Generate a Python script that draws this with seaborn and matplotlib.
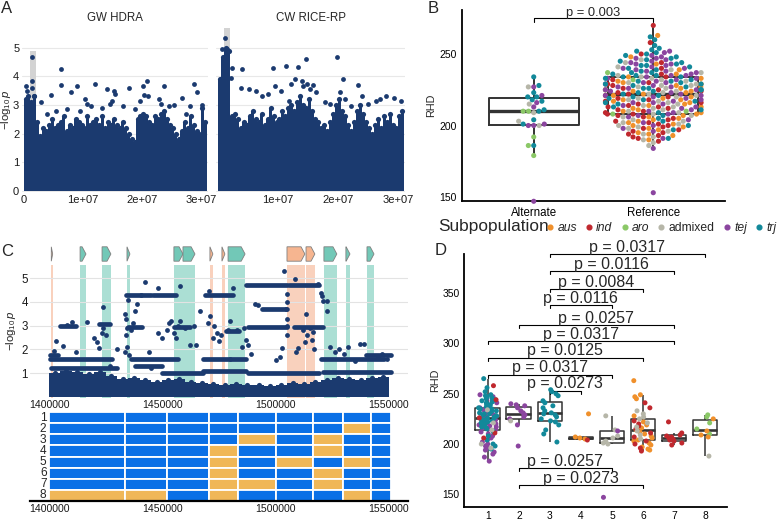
import numpy as np
import pandas as pd
import matplotlib
matplotlib.use("Agg")
import matplotlib.pyplot as plt
from matplotlib.patches import Polygon
from matplotlib.lines import Line2D
import seaborn as sns

sns.set_theme(style="white")
plt.rcParams["font.family"] = ["Liberation Sans", "DejaVu Sans"]
plt.rcParams["mathtext.fontset"] = "custom"
plt.rcParams["mathtext.rm"] = "Liberation Sans"
plt.rcParams["mathtext.it"] = "Liberation Sans:italic"

W, H = 778, 523
NAVY = "#1b3a6f"
SUB_ORDER = ["aus", "ind", "aro", "admixed", "tej", "trj"]
SUB_PAL = {"aus": "#f0902b", "ind": "#c0282e", "aro": "#8bc867",
           "admixed": "#b6b6a8", "tej": "#8b459f", "trj": "#12899a"}

# ---------------- A: genome-wide scans (envelope of dense SNP cloud + top hits)
gwas_bin_mb = [0.0, 0.5, 1.0, 1.5, 2.0, 2.5, 3.0, 3.5, 4.0, 4.5, 5.0, 5.5, 6.0, 6.5,
               7.0, 7.5, 8.0, 8.5, 9.0, 9.5, 10.0, 10.5, 11.0, 11.5, 12.0, 12.5, 13.0,
               13.5, 14.0, 14.5, 15.0, 15.5, 16.0, 16.5, 17.0, 17.5, 18.0, 18.5, 19.0,
               19.5, 20.0, 20.5, 21.0, 21.5, 22.0, 22.5, 23.0, 23.5, 24.0, 24.5, 25.0,
               25.5, 26.0, 26.5, 27.0, 27.5, 28.0, 28.5, 29.0, 29.5, 30.0, 30.5]
hdra_top = [3.2, 3.3, 3.1, 3.3, 2.4, 1.9, 2.2, 2.1, 2.3, 2.5, 2.2, 2.3, 2.4, 2.6,
            2.1, 2.3, 2.2, 2.5, 2.4, 2.3, 2.2, 2.6, 2.3, 2.4, 2.5, 2.3, 2.6,
            2.2, 2.4, 2.3, 2.5, 2.3, 2.2, 2.4, 2.2, 2.0, 1.8, 1.7, 2.5,
            2.6, 2.7, 2.6, 2.4, 2.3, 2.6, 2.5, 2.7, 2.8, 2.5, 2.3, 2.2,
            2.0, 1.8, 2.1, 2.4, 2.2, 2.6, 2.3, 2.1, 2.0, 2.9, 2.4]
ricerp_top = [3.9, 4.7, 5.0, 4.9, 2.6, 2.7, 2.5, 2.2, 2.4, 2.3, 2.6, 2.8, 2.5, 2.4,
              2.7, 2.3, 2.5, 2.9, 2.6, 2.4, 2.5, 2.8, 2.6, 2.9, 3.0, 2.8, 3.1,
              3.3, 3.0, 2.9, 3.2, 2.8, 2.5, 2.4, 2.2, 2.3, 2.1, 2.4, 2.7,
              3.0, 3.2, 2.8, 2.6, 2.3, 2.1, 2.4, 2.8, 3.0, 2.7, 2.4, 2.2,
              2.0, 2.3, 2.5, 2.2, 2.6, 2.4, 2.7, 2.3, 2.2, 2.6, 2.8]
hdra_hit_mb = [1.4, 1.4, 1.3, 0.3, 0.5, 1.7, 2.9, 4.6, 6.3, 6.2, 8.9, 8.0, 7.3, 10.4,
               10.6, 12.0, 14.1, 15.3, 15.5, 15.0, 14.5, 13.3, 17.8, 16.7, 19.6, 20.1,
               20.8, 20.3, 21.0, 23.7, 23.3, 22.9, 24.5, 25.4, 26.8, 28.8, 29.3, 28.2,
               30.1, 9.5, 11.4, 5.5, 3.9, 18.9, 27.4]
hdra_hit_logp = [4.7, 3.85, 3.6, 3.65, 3.5, 3.3, 3.1, 3.35, 4.27, 3.7, 3.65, 3.45, 2.85,
                 3.2, 3.05, 3.72, 3.55, 3.5, 3.38, 3.15, 3.05, 2.9, 3.6, 2.95, 3.15,
                 3.65, 3.85, 3.35, 3.3, 3.68, 3.05, 3.2, 2.95, 3.0, 3.25, 3.72, 3.45,
                 2.95, 3.0, 2.8, 2.95, 2.8, 2.7, 2.85, 2.7]
ricerp_hit_mb = [1.1, 0.6, 1.5, 2.3, 2.2, 4.0, 3.9, 5.2, 6.4, 8.4, 9.1, 9.5, 10.5, 11.3,
                 12.2, 12.9, 13.4, 14.0, 14.2, 14.7, 14.9, 15.3, 15.8, 16.3, 17.8, 19.9,
                 20.8, 20.3, 21.2, 23.4, 24.0, 25.0, 26.3, 27.0, 28.0, 29.3, 30.5, 11.8,
                 7.3, 18.7, 22.2]
ricerp_hit_logp = [5.35, 4.95, 4.95, 4.3, 3.95, 4.25, 3.6, 3.55, 3.5, 3.4, 4.3, 3.65,
                   3.5, 4.38, 3.75, 3.9, 4.33, 3.85, 3.65, 4.6, 3.75, 3.55, 3.7, 3.45,
                   3.1, 4.7, 3.9, 3.45, 3.2, 3.7, 3.3, 3.05, 3.15, 3.2, 3.3, 3.25, 3.15,
                   3.15, 3.3, 3.05, 2.95]

# ---------------- B: RHD by allele and subpopulation
alt_aus = []
alt_ind = []
alt_aro = [210, 210, 192, 186, 179]
alt_admixed = [227, 215, 209, 203, 200]
alt_tej = [227, 221, 216, 213, 201, 200, 200, 147]
alt_trj = [234, 228, 223, 220, 220, 218, 217, 211, 210, 204, 201, 186]
ref_aus = [263, 248, 243, 239, 236, 234, 233, 231, 230, 229, 228, 227, 226, 225,
           224, 224, 223, 222, 221, 220, 219, 218, 218, 217, 216, 215, 214, 213, 212,
           211, 210, 209, 208, 207, 206, 205, 204, 203, 202, 201, 200, 199, 198, 197,
           195, 194, 193, 190]
ref_ind = [270, 258, 250, 244, 240, 236, 234, 232, 230, 229, 228, 226, 225, 224, 223,
           222, 221, 220, 219, 218, 217, 216, 215, 214, 213, 213, 212, 211, 210, 209,
           208, 208, 207, 206, 205, 204, 203, 202, 201, 200, 199, 198, 197, 196, 195,
           194, 193, 192, 191, 189]
ref_aro = [237, 232, 225, 210, 208]
ref_admixed = [246, 244, 241, 239, 237, 235, 234, 233, 232, 231, 230, 229, 228, 228,
               227, 226, 225, 225, 224, 223, 222, 221, 220, 219, 218, 217, 216, 215,
               214, 213, 212, 211, 210, 209, 208, 207, 206, 204, 203, 202, 201, 200,
               199, 198, 196, 194, 192, 190, 188, 186]
ref_tej = [252, 251, 249, 248, 247, 247, 246, 245, 244, 243, 243, 242, 241, 240, 240,
           239, 238, 238, 237, 236, 235, 235, 234, 233, 233, 232, 231, 230, 230, 229,
           228, 227, 227, 226, 225, 225, 224, 223, 222, 221, 221, 220, 219, 218, 217,
           216, 216, 215, 214, 213, 212, 211, 210, 209, 208, 207, 206, 204, 202, 200,
           198, 196, 191, 184, 153]
ref_trj = [262, 260, 256, 254, 253, 252, 251, 250, 249, 248, 247, 246, 245, 244, 243,
           242, 242, 241, 240, 239, 238, 237, 237, 236, 235, 235, 234, 234, 233, 232,
           231, 231, 230, 229, 229, 228, 227, 226, 226, 225, 225, 224, 223, 222, 221,
           220, 219, 218, 217, 216, 215, 213, 211, 209, 207, 205, 203, 200, 197, 191]

# ---------------- C: regional scan, genes, haplotypes
gene_start_kb = [1401.0, 1413.7, 1423.4, 1434.4, 1455.1, 1459.1, 1471.0, 1476.3,
                 1479.0, 1505.0, 1513.4, 1521.3, 1531.0, 1540.3]
gene_end_kb = [1401.6, 1416.3, 1427.3, 1435.7, 1459.1, 1464.4, 1472.3, 1477.6,
               1486.5, 1512.9, 1517.3, 1527.0, 1532.8, 1543.4]
gene_group = ["s", "t", "t", "t", "t", "t", "s", "s", "t", "s", "s", "t", "t", "t"]

c_base_kb = [1400, 1405, 1410, 1415, 1420, 1425, 1430, 1435, 1440, 1445, 1450, 1455,
             1460, 1465, 1470, 1475, 1480, 1485, 1490, 1495, 1500, 1505, 1510, 1515,
             1520, 1525, 1530, 1535, 1540, 1545]
c_base_top = [1.0, 1.1, 1.05, 0.95, 1.05, 0.9, 0.75, 0.8, 0.7, 0.65, 0.7, 0.75, 0.65,
              0.6, 0.55, 0.5, 0.55, 0.5, 0.5, 0.45, 0.5, 0.6, 0.55, 0.65, 0.7, 0.8,
              0.75, 0.7, 0.8, 0.85]
c_run_start_kb = [1400.5, 1400.5, 1436, 1468, 1480, 1520, 1540, 1468, 1488, 1521, 1434,
                  1446, 1469, 1487, 1506, 1494, 1488, 1508, 1478, 1435, 1422, 1455,
                  1405, 1438, 1401, 1450]
c_run_end_kb = [1404, 1428, 1457, 1480, 1487, 1548, 1551, 1487, 1519, 1551, 1445,
                1456, 1481, 1505, 1519, 1505, 1505, 1521, 1484, 1441, 1427, 1462,
                1412, 1450, 1430, 1468]
c_run_logp = [1.78, 1.62, 1.62, 1.62, 1.58, 1.62, 1.78, 1.1, 1.02, 1.05, 4.28, 4.28,
              4.28, 4.72, 4.72, 3.72, 2.95, 2.95, 2.78, 2.95, 3.05, 2.95, 3.0, 1.3,
              1.2, 1.0]
c_snp_kb = [1442.3, 1448.2, 1457.8, 1470.7, 1481.3, 1503.7, 1508.5, 1518.8, 1520.0,
            1520.5, 1521.0, 1522.5, 1522.7, 1466.6, 1423.7, 1435.0, 1416.9, 1410.0,
            1408.0, 1470.0, 1490.9, 1492.0, 1513.4, 1471.0, 1473.0, 1474.0, 1472.5,
            1475.0, 1476.0, 1420.0, 1421.0, 1422.0, 1423.5, 1424.0, 1425.0, 1433.5,
            1434.0, 1434.5, 1434.0, 1434.5, 1433.5, 1435.5, 1436.0, 1437.0, 1438.0,
            1439.0, 1440.5, 1452.0, 1453.0, 1454.0, 1455.0, 1456.0, 1457.0, 1458.0,
            1460.0, 1462.0, 1465.0, 1464.0, 1486.0, 1487.0, 1488.0, 1489.0, 1500.0,
            1502.0, 1503.0, 1504.8, 1504.8, 1504.8, 1504.8, 1504.8, 1504.5, 1509.0,
            1510.0, 1512.0, 1514.0, 1515.0, 1516.0, 1517.0, 1516.5, 1513.0, 1524.0,
            1526.0, 1528.0, 1530.0, 1532.0, 1535.0, 1537.0, 1539.0, 1545.0, 1547.0,
            1549.0, 1485.0, 1483.0, 1480.0, 1479.0, 1412.0, 1406.0, 1403.0, 1402.0,
            1444.0, 1448.0, 1450.0, 1430.0, 1427.0, 1445.0]
c_snp_logp = [4.84, 4.57, 4.66, 4.46, 4.57, 5.29, 4.96, 4.77, 4.36, 4.25, 4.05, 4.05,
              3.6, 3.62, 3.79, 4.07, 3.17, 3.17, 3.02, 3.12, 3.93, 3.85, 3.48, 3.4,
              3.0, 2.7, 2.5, 2.35, 2.6, 2.5, 2.3, 2.05, 2.7, 2.9, 2.6, 3.5, 3.3, 2.9,
              2.6, 2.1, 1.9, 1.75, 2.8, 3.1, 3.6, 3.9, 4.3, 2.8, 3.1, 3.2, 2.7, 2.5,
              3.0, 3.2, 2.9, 2.2, 2.2, 3.0, 2.9, 2.4, 2.2, 1.8, 1.55, 1.7, 2.05, 2.6,
              3.3, 3.0, 4.0, 4.35, 3.7, 1.9, 2.05, 2.8, 2.6, 2.9, 2.4, 2.0, 2.75, 2.3,
              2.1, 1.9, 2.0, 1.8, 2.1, 1.5, 2.25, 2.25, 1.7, 1.8, 1.6, 2.1, 2.8, 3.2,
              2.8, 1.9, 2.15, 2.35, 1.95, 1.9, 2.7, 2.5, 2.0, 1.3, 1.2]

hap_block_start_kb = [1400.0, 1433.5, 1452.0, 1470.6, 1483.4, 1500.1, 1516.5, 1529.7, 1542.0]
hap_block_end_kb = [1433.5, 1452.0, 1470.6, 1483.4, 1500.1, 1516.5, 1529.7, 1542.0, 1550.9]
hap1 = [0, 0, 0, 0, 0, 0, 0, 0, 0]
hap2 = [0, 0, 0, 0, 0, 0, 0, 1, 0]
hap3 = [0, 0, 0, 0, 1, 0, 1, 0, 0]
hap4 = [0, 0, 0, 1, 0, 0, 1, 0, 0]
hap5 = [0, 0, 0, 1, 0, 1, 0, 1, 0]
hap6 = [0, 0, 0, 1, 0, 0, 1, 0, 0]
hap7 = [0, 0, 0, 1, 1, 0, 1, 0, 0]
hap8 = [1, 1, 0, 1, 0, 0, 0, 1, 0]

# ---------------- D: RHD by haplotype
d1_tej = [249, 247, 245, 243, 241, 239, 237, 236, 234, 232, 231, 229, 228, 226, 225,
          224, 222, 221, 220, 219, 218, 217, 216, 215, 214, 212, 210, 208, 206, 204,
          202, 200, 198, 196, 194, 192, 190, 187, 183]
d1_trj = [265, 256, 252, 249, 248, 247, 246, 245, 244, 243, 242, 241, 240, 239, 238,
          237, 236, 235, 235, 234, 233, 233, 232, 231, 230, 230, 229, 228, 228, 227,
          226, 226, 225, 224, 224, 223, 222, 221, 220, 219, 218, 217, 216, 215, 213,
          212, 208, 204, 200, 198, 195]
d1_ind = [258, 244, 226, 211, 206]
d1_admixed = [234, 221, 214, 200, 196]
d2_tej = [240, 239, 238, 236, 233, 231, 229, 227, 225, 219, 198]
d2_admixed = [223]
d3_trj = [254, 252, 250, 248, 243, 241, 238, 236, 233, 231, 230, 229, 227, 225, 223,
          222, 219, 214, 210, 202]
d4_aus = [230, 207, 206, 205]
d4_ind = [204]
d5_admixed = [228, 214, 208, 206, 203, 201, 200]
d5_tej = [213, 147]
d6_aus = [263, 249, 247, 245, 228, 222, 219, 216, 214, 212, 210, 208, 206, 204, 203,
          201, 199, 197, 195, 194]
d6_ind = [241, 236, 223, 220, 218, 215, 211, 207, 203, 200, 196, 193]
d6_admixed = [233, 230, 227, 225, 221, 217, 213, 209, 205]
d7_ind = [222, 211, 209, 208, 207, 206, 205, 204, 203, 201, 199]
d8_aro = [229, 227, 221, 215, 210]
d8_aus = [225, 213, 209, 207]
d8_admixed = [188]

d_brackets_from = [3, 3, 3, 3, 2, 1, 1, 1, 3, 2, 2]
d_brackets_to = [8, 7, 6, 5, 7, 7, 6, 5, 4, 5, 6]
d_brackets_y = [389, 372, 354, 338, 318, 302, 286, 269, 253, 176, 159]
d_brackets_p = ["0.0317", "0.0116", "0.0084", "0.0116", "0.0257", "0.0317", "0.0125",
                "0.0317", "0.0273", "0.0257", "0.0273"]


def rect(x0, y0, x1, y1):
    """pixel box (top-left origin) -> figure rect"""
    return [x0 / W, 1 - y1 / H, (x1 - x0) / W, (y1 - y0) / H]


def long_table(group_col, pieces):
    rows = []
    for grp, sub, vals in pieces:
        for v in vals:
            rows.append({group_col: grp, "sub": sub, "RHD": v})
    return pd.DataFrame(rows)


fig = plt.figure(figsize=(W / 100, H / 100), dpi=100)

# ================= panel A
axA1 = fig.add_axes(rect(22, 28, 208, 192))
axA2 = fig.add_axes(rect(216, 28, 405, 192))
facets = [
    (axA1, hdra_top, hdra_hit_mb, hdra_hit_logp, 4.9, "GW HDRA", [0, 1e7, 2e7, 3e7],
     ["0", "1e+07", "2e+07", "3e+07"]),
    (axA2, ricerp_top, ricerp_hit_mb, ricerp_hit_logp, 5.7, "CW RICE-RP", [1e7, 2e7, 3e7],
     ["1e+07", "2e+07", "3e+07"]),
]
for ax, tops, hx, hy, shade_top, title, xt, xtl in facets:
    bins = np.array(gwas_bin_mb) * 1e6
    ax.bar([1.0e6], [shade_top], width=1.0e6, align="edge", color="#d3d3d3", lw=0, zorder=1)
    ax.bar(bins, tops, width=0.5e6, align="edge", color=NAVY, lw=0, zorder=2)
    # round the skyline tops so the cloud reads as points
    ax.scatter(bins + 0.25e6, tops, s=14, color=NAVY, lw=0, zorder=2)
    ax.scatter(np.array(hx) * 1e6, hy, s=12, color=NAVY, lw=0, zorder=3)
    ax.set_xlim(-0.35e6, 31.2e6)
    ax.set_ylim(-0.05, 5.7)
    ax.set_yticks([0, 1, 2, 3, 4, 5])
    ax.set_xticks(xt)
    ax.set_xticklabels(xtl)
    ax.grid(axis="y", color="#e8e8e8", lw=0.8)
    ax.grid(axis="x", visible=False)
    ax.set_axisbelow(True)
    for s in ax.spines.values():
        s.set_visible(False)
    ax.tick_params(length=0, labelsize=8, colors="#1a1a1a", pad=2)
    ax.text(0.5, 1.06, title, transform=ax.transAxes, ha="center", va="center", fontsize=8.3)
axA2.set_yticklabels([])
fig.text(6 / W, 1 - 110 / H, r"$-\log_{10}p$", rotation=90, ha="center", va="center", fontsize=8.2)

# ================= panel B
alleles = ["Alternate", "Reference"]
dfB = long_table("allele", [
    ("Alternate", "aus", alt_aus), ("Alternate", "ind", alt_ind), ("Alternate", "aro", alt_aro),
    ("Alternate", "admixed", alt_admixed), ("Alternate", "tej", alt_tej), ("Alternate", "trj", alt_trj),
    ("Reference", "aus", ref_aus), ("Reference", "ind", ref_ind), ("Reference", "aro", ref_aro),
    ("Reference", "admixed", ref_admixed), ("Reference", "tej", ref_tej), ("Reference", "trj", ref_trj),
])
axB = fig.add_axes(rect(462, 10, 725, 201))
sns.boxplot(data=dfB, x="allele", y="RHD", order=alleles, width=0.75, fill=False,
            color="#333333", linewidth=1.4, showfliers=False, showcaps=False,
            medianprops={"linewidth": 2.4}, ax=axB)
sns.swarmplot(data=dfB, x="allele", y="RHD", order=alleles, hue="sub", hue_order=SUB_ORDER,
              palette=SUB_PAL, size=3.7, linewidth=0, legend=False, ax=axB)
for c in axB.collections:
    c.set_clip_on(False)
axB.set_xlim(-0.6, 1.6)
axB.set_ylim(147.2, 280.8)
axB.set_yticks([150, 200, 250])
axB.set_xlabel("")
axB.set_ylabel("RHD", fontsize=7.8, labelpad=2)
sns.despine(ax=axB)
for s in ("left", "bottom"):
    axB.spines[s].set_linewidth(1.3)
    axB.spines[s].set_color("black")
axB.tick_params(axis="both", length=3, width=0.9, colors="black", pad=1)
axB.tick_params(axis="x", labelsize=8.3)
axB.tick_params(axis="y", labelsize=7.5)
axB.plot([0, 0, 1, 1], [272.5, 275.5, 275.5, 272.5], color="black", lw=0.8, clip_on=False)
axB.text(0.5, 276.8, "p = 0.003", ha="center", va="baseline", fontsize=9.3)

# legend row
fig.text(438 / W, 1 - 227 / H, "Subpopulation", fontsize=12.4, va="center", ha="left")
handles = [Line2D([], [], marker="o", ls="", color=SUB_PAL[s], ms=3.4) for s in SUB_ORDER]
leg = fig.legend(handles, SUB_ORDER, loc="center left", bbox_to_anchor=(547 / W, 1 - 228 / H),
                 ncol=6, frameon=False, fontsize=8.7, handlelength=0.5, handletextpad=0.35,
                 columnspacing=0.75, borderaxespad=0, borderpad=0)
for t in leg.get_texts():
    if t.get_text() != "admixed":
        t.set_fontstyle("italic")

# ================= panel C
axG = fig.add_axes(rect(30, 246, 408, 262))
axC = fig.add_axes(rect(30, 265, 408, 398))
axH = fig.add_axes(rect(30, 412, 408, 501))
xlim_c = (1391600, 1558400)
head = 1700
for s, e, g in zip(gene_start_kb, gene_end_kb, gene_group):
    s, e = s * 1e3, e * 1e3
    fc = "#72c8b7" if g == "t" else "#f6b590"
    band = "#abdfd4" if g == "t" else "#f9d1bd"
    h = min(head, e - s)
    axG.add_patch(Polygon([[s, 0.05], [e - h, 0.05], [e, 0.5], [e - h, 0.95], [s, 0.95]],
                          closed=True, facecolor=fc, edgecolor="#7f7f7f", lw=0.6))
    axC.axvspan(s, e, color=band, lw=0, zorder=0.5)
axG.set_xlim(*xlim_c)
axG.set_ylim(0, 1)
axG.axis("off")

base_x = np.array(c_base_kb) * 1e3
axC.bar(base_x, c_base_top, width=5000, align="edge", color=NAVY, lw=0, zorder=2)
axC.scatter(base_x + 2500, c_base_top, s=14, color=NAVY, lw=0, zorder=2)
runs = axC.hlines(c_run_logp, np.array(c_run_start_kb) * 1e3, np.array(c_run_end_kb) * 1e3,
                  colors=NAVY, lw=3.4, zorder=3)
runs.set_capstyle("round")
axC.scatter(np.array(c_snp_kb) * 1e3, c_snp_logp, s=12, color=NAVY, lw=0, zorder=3)
axC.set_xlim(*xlim_c)
axC.set_ylim(-0.04, 5.55)
axC.set_yticks([1, 2, 3, 4, 5])
axC.set_xticks([1400000, 1450000, 1500000, 1550000])
axC.set_xticklabels(["1400000", "1450000", "1500000", "1550000"])
axC.grid(axis="y", color="#e3e3e3", lw=0.8)
axC.grid(axis="x", visible=False)
axC.set_axisbelow(True)
for s in axC.spines.values():
    s.set_visible(False)
axC.tick_params(length=0, colors="#1a1a1a", pad=1.5)
axC.tick_params(axis="y", labelsize=8.3)
axC.tick_params(axis="x", labelsize=7.6)
fig.text(11 / W, 1 - 331 / H, r"$-\log_{10}p$", rotation=90, ha="center", va="center", fontsize=8.2)

hap_rows = [hap1, hap2, hap3, hap4, hap5, hap6, hap7, hap8]
starts = np.array(hap_block_start_kb) * 1e3
widths = (np.array(hap_block_end_kb) - np.array(hap_block_start_kb)) * 1e3
for r, hap in enumerate(hap_rows, start=1):
    cols = ["#f0b757" if a else "#0a70e6" for a in hap]
    axH.barh([r] * len(hap), widths, left=starts, height=1.0, color=cols,
             edgecolor="white", linewidth=1.3)
    axH.text(1398900, r, str(r), ha="right", va="center", fontsize=8.6)
axH.set_xlim(*xlim_c)
axH.set_ylim(8.5, 0.5)
axH.set_yticks([])
axH.set_xticks([1400000, 1450000, 1500000, 1550000])
axH.set_xticklabels(["1400000", "1450000", "1500000", "1550000"])
for s in ("top", "left", "right"):
    axH.spines[s].set_visible(False)
axH.spines["bottom"].set_color("black")
axH.spines["bottom"].set_linewidth(1.6)
axH.tick_params(length=0, labelsize=7.6, colors="#1a1a1a", pad=2)

# ================= panel D
groups = ["1", "2", "3", "4", "5", "6", "7", "8"]
dfD = long_table("hap", [
    ("1", "tej", d1_tej), ("1", "trj", d1_trj), ("1", "ind", d1_ind), ("1", "admixed", d1_admixed),
    ("2", "tej", d2_tej), ("2", "admixed", d2_admixed),
    ("3", "trj", d3_trj),
    ("4", "aus", d4_aus), ("4", "ind", d4_ind),
    ("5", "admixed", d5_admixed), ("5", "tej", d5_tej),
    ("6", "aus", d6_aus), ("6", "ind", d6_ind), ("6", "admixed", d6_admixed),
    ("7", "ind", d7_ind),
    ("8", "aro", d8_aro), ("8", "aus", d8_aus), ("8", "admixed", d8_admixed),
])
axD = fig.add_axes(rect(464, 254, 727, 507))
sns.boxplot(data=dfD, x="hap", y="RHD", order=groups, width=0.8, fill=False, color="#333333",
            linewidth=1.1, showfliers=False, showcaps=False, medianprops={"linewidth": 1.9}, ax=axD)
np.random.seed(7)
sns.stripplot(data=dfD, x="hap", y="RHD", order=groups, hue="sub", hue_order=SUB_ORDER,
              palette=SUB_PAL, size=3.6, jitter=0.3, linewidth=0, legend=False, ax=axD)
axD.set_xlim(-0.77, 7.71)
axD.set_ylim(137.4, 388.9)
axD.set_yticks([150, 200, 250, 300, 350])
axD.set_xlabel("")
axD.set_ylabel("RHD", fontsize=7.8, labelpad=2)
sns.despine(ax=axD)
for s in ("left", "bottom"):
    axD.spines[s].set_linewidth(1.3)
    axD.spines[s].set_color("black")
axD.tick_params(axis="both", length=2.5, width=0.9, colors="black", pad=0.5, labelsize=7.4)
for a, b, y, p in zip(d_brackets_from, d_brackets_to, d_brackets_y, d_brackets_p):
    x0, x1 = a - 1, b - 1
    axD.plot([x0, x0, x1, x1], [y - 3, y, y, y - 3], color="black", lw=0.8, clip_on=False)
    axD.text((x0 + x1) / 2, y + 2.2, f"p = {p}", ha="center", va="baseline",
             fontsize=11.5, clip_on=False)

# panel letters
for lab, x, y in (("A", 1, 1), ("B", 428, 1), ("C", 1, 244), ("D", 435, 243)):
    fig.text(x / W, 1 - y / H, lab, ha="left", va="top", fontsize=12)

fig.savefig("out.png", dpi=100)
